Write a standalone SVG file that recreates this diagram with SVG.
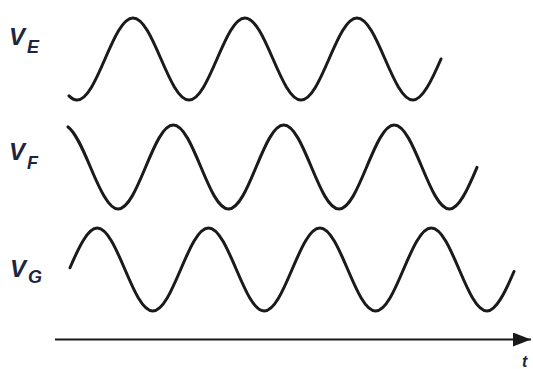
<svg xmlns="http://www.w3.org/2000/svg" width="533" height="369" viewBox="0 0 533 369">
  <style>
    .wave { fill: none; stroke: #1a1a1a; stroke-width: 3; stroke-linecap: round; stroke-linejoin: round; }
    .axis { fill: none; stroke: #1a1a1a; stroke-width: 2; }
    .lbl { font-family: "Liberation Sans", Arial, sans-serif; font-weight: bold; font-style: italic; fill: #1f2540; }
    .big { font-size: 24px; }
    .sub { font-size: 18px; }
    .small { font-size: 16px; }
  </style>
  <defs>
    <marker id="arrow" viewBox="0 0 18 14" refX="18" refY="7" markerWidth="18" markerHeight="14" markerUnits="userSpaceOnUse" orient="auto">
      <path d="M0,0 L18,7 L0,14 Z" fill="#1a1a1a"/>
    </marker>
  </defs>
  <rect width="533" height="369" fill="#ffffff"/>

  <g id="VE">
    <text class="lbl big" x="9" y="45">V</text>
    <text class="lbl sub" x="27" y="53">E</text>
    <path class="wave" d="M69,95.9 C71.67,98.57 74.33,100 77,100
      C97.35,100 112.65,18 133,18
      C153.35,18 168.65,100 189,100
      C209.35,100 224.65,18 245,18
      C265.35,18 280.65,100 301,100
      C321.35,100 336.65,18 357,18
      C377.35,18 392.65,100 413,100
      C422.33,100 431.67,80.5 441,59"/>
  </g>

  <g id="VF">
    <text class="lbl big" x="9" y="160">V</text>
    <text class="lbl sub" x="27" y="169">F</text>
    <path class="wave" d="M68,126.9 C75.46,132.14 82.92,149.19 90.375,167
      C99.58,188.99 108.79,209 118,209
      C138.08,209 153.17,125 173.25,125
      C193.33,125 208.42,209 228.5,209
      C248.58,209 263.67,125 283.75,125
      C303.83,125 318.92,209 339,209
      C359.08,209 374.17,125 394.25,125
      C414.33,125 429.42,209 449.5,209
      C458.67,209 467.83,189.2 477,167.3"/>
  </g>

  <g id="VG">
    <text class="lbl big" x="10" y="277">V</text>
    <text class="lbl sub" x="28" y="283">G</text>
    <path class="wave" d="M70,267.75 C79.03,246.64 88.07,228 97.1,228
      C117.34,228 132.56,311 152.8,311
      C173.04,311 188.26,228 208.5,228
      C228.74,228 243.96,311 264.2,311
      C284.44,311 299.66,228 319.9,228
      C340.14,228 355.36,311 375.6,311
      C395.84,311 411.06,228 431.3,228
      C451.54,228 466.76,311 487,311
      C496,311 505,292.54 514,271.5"/>
  </g>

  <g id="connectors">
    <line class="axis" x1="55" y1="339.5" x2="531" y2="339.5" marker-end="url(#arrow)"/>
  </g>

  <g id="t-label">
    <text class="lbl small" x="522" y="367">t</text>
  </g>
</svg>
